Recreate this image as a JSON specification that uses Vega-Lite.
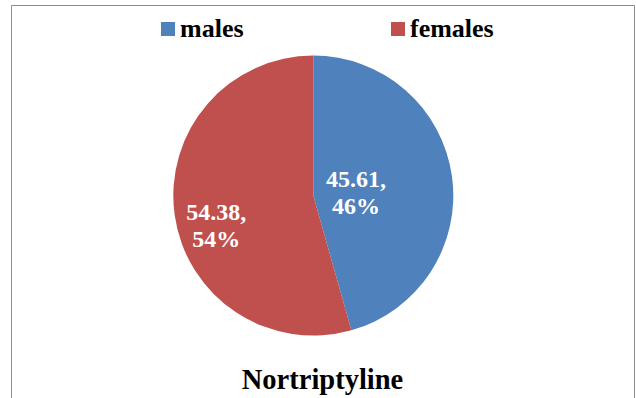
{
  "$schema": "https://vega.github.io/schema/vega-lite/v6.json",
  "autosize": "none",
  "width": 623,
  "height": 400,
  "padding": {"left": 11, "top": 5, "right": 2, "bottom": -7},
  "background": "white",
  "view": {"stroke": "#8c8c8c", "strokeWidth": 1},
  "config": {
    "view": {"stroke": "#8c8c8c", "strokeWidth": 1},
    "font": "Times New Roman, Liberation Serif, serif"
  },
  "title": {
    "text": "Nortriptyline",
    "orient": "bottom",
    "anchor": "middle",
    "font": "Times New Roman, Liberation Serif, serif",
    "fontSize": 28.5,
    "fontWeight": "bold",
    "color": "black",
    "baseline": "alphabetic",
    "offset": -16
  },
  "data": {
    "values": [
      {"sex": "males", "value": 45.61, "label": "45.61,\n46%"},
      {"sex": "females", "value": 54.38, "label": "54.38,\n54%"}
    ]
  },
  "encoding": {
    "theta": {"field": "value", "type": "quantitative", "stack": true},
    "order": {"field": "sex", "sort": "descending"}
  },
  "layer": [
    {
      "mark": {"type": "arc", "outerRadius": 140, "xOffset": -9.2, "yOffset": -9.4},
      "encoding": {
        "color": {
          "field": "sex",
          "type": "nominal",
          "scale": {"domain": ["males", "females"], "range": ["#4F81BD", "#C0504D"]},
          "legend": {
            "orient": "none",
            "legendX": 144,
            "legendY": 11,
            "direction": "horizontal",
            "title": null,
            "symbolType": "square",
            "symbolSize": 196,
            "symbolStrokeWidth": 0,
            "symbolOpacity": 1,
            "labelFont": "Times New Roman, Liberation Serif, serif",
            "labelFontSize": 26,
            "labelFontWeight": "bold",
            "labelColor": "black",
            "labelOffset": -1,
            "columnPadding": 141,
            "labelLimit": 300
          }
        }
      }
    },
    {
      "mark": {"type": "text", "radius": 43, "xOffset": -9.2, "yOffset": -9.4, "dy": -10, "font": "Times New Roman, Liberation Serif, serif", "fontSize": 24, "fontWeight": "bold", "fill": "white", "lineBreak": "\n", "lineHeight": 27, "align": "center", "baseline": "middle"},
      "encoding": {
        "text": {"condition": {"test": "datum.sex === 'males'", "field": "label"}, "value": ""}
      }
    },
    {
      "mark": {"type": "text", "radius": 98, "xOffset": -9.2, "yOffset": -9.4, "dy": 4, "font": "Times New Roman, Liberation Serif, serif", "fontSize": 24, "fontWeight": "bold", "fill": "white", "lineBreak": "\n", "lineHeight": 27, "align": "center", "baseline": "middle"},
      "encoding": {
        "text": {"condition": {"test": "datum.sex === 'females'", "field": "label"}, "value": ""}
      }
    }
  ]
}
